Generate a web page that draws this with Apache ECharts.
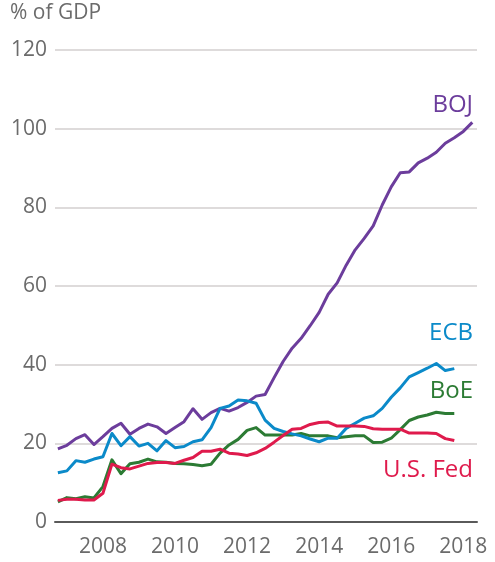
<!DOCTYPE html>
<html>
<head>
<meta charset="utf-8">
<script src="https://cdn.jsdelivr.net/npm/echarts@6/dist/echarts.min.js"></script>
<style>
  html, body { margin: 0; padding: 0; background: #fff; }
  #chart { width: 495px; height: 562px; }
</style>
</head>
<body>
<div id="chart"></div>
<script>
// quarterly observations, first one is Q4 2006
var firstQuarter = 2006.75;
var yearTicks = [2008, 2010, 2012, 2014, 2016, 2018];
var yTicks = [0, 20, 40, 60, 80, 100, 120];

var boj = [18.6, 19.5, 21.2, 22.2, 19.7, 21.7, 23.8, 25.1, 22.3, 23.8, 24.9, 24.2, 22.5, 24.0, 25.5, 28.8,
	26.1, 27.8, 28.9, 28.2, 29.1, 30.4, 32.0, 32.4, 36.7, 40.8, 44.2, 46.7, 49.9, 53.3, 57.9, 60.8,
	65.3, 69.2, 72.1, 75.3, 80.6, 85.2, 88.8, 89.0, 91.3, 92.5, 94.0, 96.3, 97.7, 99.3, 101.6];
var ecb = [12.5, 13.0, 15.6, 15.2, 16.0, 16.6, 22.5, 19.4, 21.7, 19.3, 20.0, 18.1, 20.7, 18.9, 19.2, 20.4,
	20.9, 24.0, 28.9, 29.5, 31.0, 30.8, 30.2, 25.9, 23.8, 23.0, 22.4, 21.9, 21.1, 20.4, 21.3, 21.3,
	23.8, 25.1, 26.4, 27.0, 28.9, 31.7, 34.1, 36.9, 38.0, 39.1, 40.3, 38.5, 39.0];
var boe = [5.1, 6.2, 5.9, 6.4, 6.1, 9.0, 15.8, 12.3, 14.8, 15.2, 16.0, 15.3, 15.2, 14.9, 14.8, 14.6,
	14.3, 14.7, 17.5, 19.6, 21.0, 23.3, 24.0, 22.1, 22.1, 22.1, 22.1, 22.5, 21.9, 21.9, 21.9, 21.4,
	21.7, 21.9, 21.9, 20.2, 20.3, 21.3, 23.5, 25.8, 26.7, 27.2, 27.9, 27.6, 27.6];
var fed = [5.5, 5.8, 5.8, 5.6, 5.6, 7.3, 14.7, 13.8, 13.5, 14.2, 14.9, 15.1, 15.1, 14.9, 15.7, 16.4,
	18.0, 18.0, 18.5, 17.5, 17.3, 16.9, 17.6, 18.7, 20.3, 22.0, 23.6, 23.8, 24.8, 25.3, 25.4, 24.4,
	24.4, 24.4, 24.3, 23.7, 23.6, 23.6, 23.6, 22.6, 22.6, 22.6, 22.5, 21.2, 20.7];

var colors = { boj: '#6c3d9c', ecb: '#0b8ac9', boe: '#2c7b34', fed: '#df1a4c' };
var font = '"Open Sans", "DejaVu Sans", sans-serif';

function pairs(values) {
	var out = [];
	for (var i = 0; i < values.length; i++) {
		out.push([firstQuarter + i * 0.25, values[i]]);
	}
	return out;
}

function lineSeries(name, values, color) {
	return {
		name: name,
		type: 'line',
		data: pairs(values),
		symbol: 'none',
		smooth: false,
		lineStyle: { color: color, width: 3, join: 'round' },
		itemStyle: { color: color },
		animation: false
	};
}

function seriesLabel(text, right, y, color) {
	return {
		type: 'text',
		right: right,
		top: y,
		style: { text: text, fill: color, font: '24px ' + font }
	};
}

var chart = echarts.init(document.getElementById('chart'), null, { renderer: 'canvas' });
chart.setOption({
	animation: false,
	grid: { left: 55, right: 18, top: 50, bottom: 40, containLabel: false },
	xAxis: {
		type: 'value',
		min: 2006.67,
		max: 2018.38,
		splitLine: { show: false },
		axisLine: { show: true, onZero: false, lineStyle: { color: '#5a5a5a', width: 2 } },
		axisTick: { show: false },
		axisLabel: {
			customValues: yearTicks,
			formatter: function (v) { return String(v); },
			color: '#6b6b6b',
			fontSize: 21,
			fontFamily: font,
			margin: 15
		}
	},
	yAxis: {
		type: 'value',
		min: 0,
		max: 120,
		interval: 20,
		axisLine: { show: false },
		axisTick: { show: false },
		splitLine: { lineStyle: { color: '#d3cfcf', width: 1.5 } },
		axisLabel: {
			customValues: yTicks,
			color: '#6b6b6b',
			fontSize: 21,
			fontFamily: font,
			margin: 8
		}
	},
	graphic: [
		{ type: 'text', left: 10, top: 3, style: { text: '% of GDP', fill: '#6b6b6b', font: '21px ' + font } },
		seriesLabel('BOJ', 22, 93, colors.boj),
		seriesLabel('ECB', 22, 321, colors.ecb),
		seriesLabel('BoE', 22, 379, colors.boe),
		seriesLabel('U.S. Fed', 22, 458, colors.fed)
	],
	series: [
		lineSeries('BOJ', boj, colors.boj),
		lineSeries('BoE', boe, colors.boe),
		lineSeries('ECB', ecb, colors.ecb),
		lineSeries('U.S. Fed', fed, colors.fed)
	]
});
</script>
</body>
</html>
